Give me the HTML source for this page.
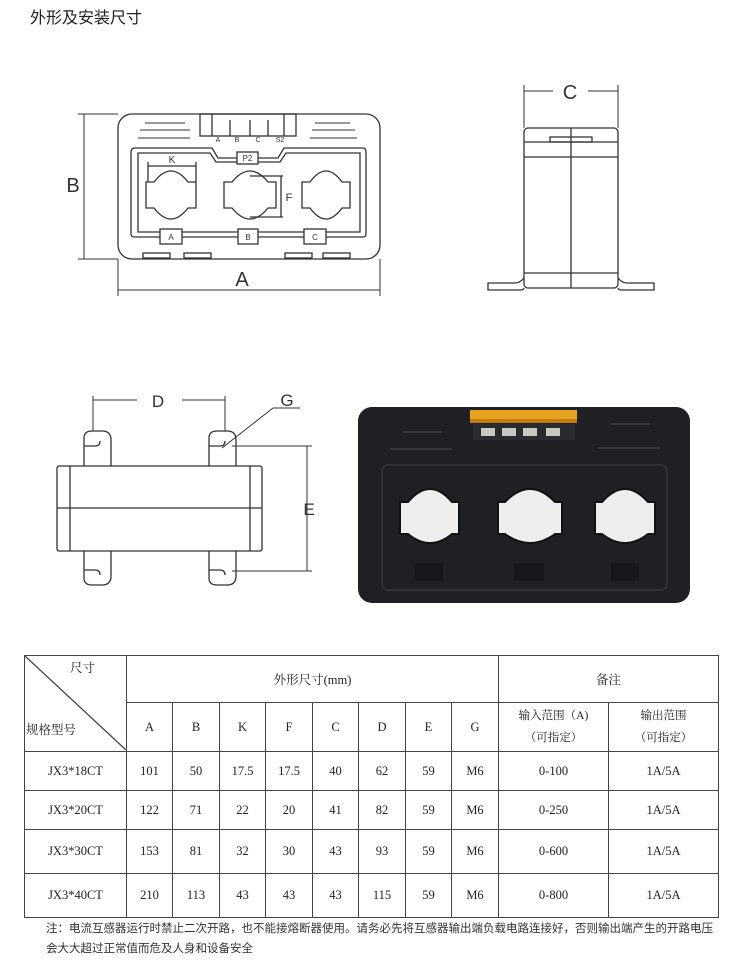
<!DOCTYPE html>
<html><head><meta charset="utf-8"><style>
body{margin:0;width:750px;height:966px;background:#fff;position:relative;overflow:hidden;font-family:"Liberation Serif","Noto Serif CJK SC",serif;}
.t{position:absolute;left:30px;top:4px;font-size:16px;font-family:"Liberation Sans","Noto Sans CJK SC",sans-serif;color:#222}
svg{position:absolute;left:0;top:0}
table{position:absolute;left:24px;top:655px;border-collapse:collapse;font-size:12.5px;color:#222}
td{border:1.5px solid #444;text-align:center;padding:0}
.n{position:absolute;left:46px;font-size:11.5px;color:#333;font-family:"Liberation Sans","Noto Sans CJK SC",sans-serif}
</style></head><body>
<div class="t">外形及安装尺寸</div>
<svg width="750" height="650" viewBox="0 0 750 650" fill="none" stroke="#333" stroke-width="1.3" font-family="Liberation Sans, sans-serif">
<!-- front drawing -->
<rect x="118" y="114" width="262" height="145" rx="14"/>
<rect x="200" y="114" width="96" height="22"/>
<line x1="212" y1="114" x2="212" y2="136"/><line x1="284" y1="114" x2="284" y2="136"/>
<line x1="230" y1="120" x2="230" y2="136"/><line x1="250" y1="120" x2="250" y2="136"/><line x1="268" y1="120" x2="268" y2="136"/>
<g stroke-width="1"><line x1="145" y1="123" x2="185" y2="123"/><line x1="140" y1="130" x2="190" y2="130"/><line x1="138" y1="138" x2="190" y2="138"/>
<line x1="315" y1="123" x2="350" y2="123"/><line x1="312" y1="130" x2="355" y2="130"/><line x1="310" y1="138" x2="357" y2="138"/></g>
<g fill="#333" stroke="none" font-size="7" text-anchor="middle"><text x="218" y="142">A</text><text x="237" y="142">B</text><text x="258" y="142">C</text><text x="280" y="142">S2</text></g>
<path d="M135 148 H212 L218 158 H278 L284 148 H363 Q366 148 366 152 V234 Q366 237 363 237 H135 Q131 237 131 234 V152 Q131 148 135 148Z"/>
<path d="M138 153 H210 L216 162 H280 L286 153 H360 V232 H138Z"/>
<rect x="237" y="152" width="21" height="12" fill="#fff"/><text x="247.5" y="161" font-size="8" fill="#333" stroke="none" text-anchor="middle">P2</text>
<g fill="#fff">
<path d="M146 182 H154 Q171 160 188 182 H196 V208 H188 Q171 230 154 208 H146Z"/>
<path d="M224 182 H232 Q250 160 268 182 H276 V208 H268 Q250 230 232 208 H224Z"/>
<path d="M302 182 H310 Q326 160 342 182 H350 V208 H342 Q326 230 310 208 H302Z"/>
</g>
<line x1="148" y1="166" x2="196" y2="166"/><line x1="148" y1="162" x2="148" y2="182"/><line x1="196" y1="162" x2="196" y2="182"/>
<line x1="250" y1="176" x2="283" y2="176"/><line x1="250" y1="217" x2="283" y2="217"/><line x1="281" y1="176" x2="281" y2="217"/>
<g fill="#fff"><rect x="160" y="229" width="22" height="15"/><rect x="238" y="229" width="20" height="15"/><rect x="304" y="229" width="22" height="15"/></g>
<g fill="#333" stroke="none" text-anchor="middle"><text x="171" y="240" font-size="8">A</text><text x="248" y="240" font-size="8">B</text><text x="315" y="240" font-size="8">C</text>
<text x="172" y="163" font-size="10">K</text><text x="289" y="201" font-size="11">F</text>
<text x="73" y="192" font-size="20">B</text><text x="242" y="286" font-size="20">A</text></g>
<rect x="143" y="253" width="27" height="5"/><rect x="184" y="253" width="27" height="5"/><rect x="285" y="253" width="27" height="5"/><rect x="323" y="253" width="27" height="5"/>
<g stroke-width="1"><line x1="78" y1="114" x2="118" y2="114"/><line x1="78" y1="259" x2="118" y2="259"/><line x1="84" y1="114" x2="84" y2="259"/>
<line x1="118" y1="259" x2="118" y2="296"/><line x1="380" y1="259" x2="380" y2="296"/><line x1="118" y1="290" x2="380" y2="290"/></g>
<!-- side view -->
<rect x="524" y="128" width="94" height="160" rx="4"/>
<line x1="571" y1="128" x2="571" y2="288"/><line x1="524" y1="142" x2="618" y2="142"/><line x1="524" y1="157" x2="618" y2="157"/><line x1="524" y1="273" x2="618" y2="273"/>
<rect x="550" y="137" width="42" height="5"/>
<path d="M524 278 Q520 283 515 283 H488 V290 H520 Q524 290 524 288"/><path d="M618 278 Q622 283 627 283 H654 V290 H622 Q618 290 618 288"/>
<g stroke-width="1"><line x1="524" y1="85" x2="524" y2="128"/><line x1="618" y1="85" x2="618" y2="128"/><line x1="524" y1="91" x2="553" y2="91"/><line x1="588" y1="91" x2="618" y2="91"/></g>
<text x="570" y="99" font-size="20" fill="#333" stroke="none" text-anchor="middle">C</text>
<!-- bottom view -->
<rect x="57" y="466" width="205" height="85" rx="2"/>
<line x1="70" y1="466" x2="70" y2="551"/><line x1="250" y1="466" x2="250" y2="551"/><line x1="57" y1="508" x2="262" y2="508"/>
<path d="M84 466 V438 Q84 431 92 431 H102 Q111 431 111 440 V466 M84 446 H95 Q100 446 100 441"/>
<path d="M209 466 V438 Q209 431 217 431 H227 Q236 431 236 440 V466 M209 446 H220 Q225 446 225 441"/>
<path d="M84 551 V578 Q84 585 92 585 H102 Q111 585 111 576 V551 M84 570 H95 Q100 570 100 575"/>
<path d="M209 551 V578 Q209 585 217 585 H227 Q236 585 236 576 V551 M209 570 H220 Q225 570 225 575"/>
<g stroke-width="1"><line x1="93" y1="396" x2="93" y2="431"/><line x1="225" y1="396" x2="225" y2="431"/>
<line x1="93" y1="400" x2="137" y2="400"/><line x1="182" y1="400" x2="225" y2="400"/>
<line x1="222" y1="448" x2="273" y2="408"/><line x1="273" y1="408" x2="300" y2="408"/>
<line x1="232" y1="446" x2="312" y2="446"/><line x1="232" y1="571" x2="312" y2="571"/><line x1="307" y1="446" x2="307" y2="571"/></g>
<g fill="#333" stroke="none" text-anchor="middle" font-size="17"><text x="158" y="407">D</text><text x="287" y="406">G</text><text x="309" y="515">E</text></g>
<!-- photo -->
<rect x="358" y="407" width="332" height="196" rx="14" fill="#1e2024" stroke="none"/>
<rect x="382" y="465" width="285" height="125" rx="6" fill="none" stroke="#2e3036" stroke-width="2"/>
<rect x="470" y="410" width="107" height="12" fill="#e6a21c" stroke="none"/>
<rect x="470" y="419" width="107" height="4" fill="#c27a0c" stroke="none"/>
<rect x="473" y="424" width="102" height="16" fill="#2a2b2e" stroke="none"/>
<g fill="#c9c9c0" stroke="none"><rect x="481" y="428" width="14" height="8"/><rect x="502" y="428" width="14" height="8"/><rect x="523" y="428" width="14" height="8"/><rect x="546" y="428" width="14" height="8"/></g>
<g stroke="#3a3c42" stroke-width="1.5"><line x1="403" y1="432" x2="442" y2="432"/><line x1="390" y1="449" x2="452" y2="449"/><line x1="610" y1="424" x2="650" y2="424"/><line x1="598" y1="448" x2="660" y2="448"/></g>
<g fill="#eeeeee" stroke="#111" stroke-width="2">
<path d="M400 502 H408 Q430 476 452 502 H459 V534 H452 Q430 552 408 534 H400Z"/>
<path d="M498 502 H505 Q530 476 555 502 H562 V534 H555 Q530 552 505 534 H498Z"/>
<path d="M595 502 H602 Q625 476 648 502 H655 V534 H648 Q625 552 602 534 H595Z"/>
</g>
<g fill="#16181b" stroke="none"><rect x="415" y="563" width="28" height="18"/><rect x="514" y="563" width="30" height="18"/><rect x="611" y="563" width="28" height="18"/></g>
</svg>
<table>
<tr style="height:47px"><td rowspan="2" style="width:101px;position:relative;">
<svg width="101" height="94" style="position:absolute;left:0;top:0"><line x1="0" y1="0" x2="101" y2="94" stroke="#444" stroke-width="1.3"/></svg>
<span style="position:absolute;left:45px;top:2px;">尺寸</span><span style="position:absolute;left:1px;top:64px;">规格型号</span></td>
<td colspan="8">外形尺寸(mm)</td><td colspan="2">备注</td></tr>
<tr style="height:49px"><td style="width:45px">A</td><td style="width:46px">B</td><td style="width:45px">K</td><td style="width:46px">F</td><td style="width:45px">C</td><td style="width:46px">D</td><td style="width:45px">E</td><td style="width:46px">G</td><td style="width:109px;font-size:11.5px;line-height:22px">输入范围（A)<br>（可指定）</td><td style="width:109px;font-size:11.5px;line-height:22px">输出范围<br>（可指定）</td></tr>
<tr style="height:39px"><td>JX3*18CT</td><td>101</td><td>50</td><td>17.5</td><td>17.5</td><td>40</td><td>62</td><td>59</td><td>M6</td><td>0-100</td><td>1A/5A</td></tr>
<tr style="height:39px"><td>JX3*20CT</td><td>122</td><td>71</td><td>22</td><td>20</td><td>41</td><td>82</td><td>59</td><td>M6</td><td>0-250</td><td>1A/5A</td></tr>
<tr style="height:44px"><td>JX3*30CT</td><td>153</td><td>81</td><td>32</td><td>30</td><td>43</td><td>93</td><td>59</td><td>M6</td><td>0-600</td><td>1A/5A</td></tr>
<tr style="height:44px"><td>JX3*40CT</td><td>210</td><td>113</td><td>43</td><td>43</td><td>43</td><td>115</td><td>59</td><td>M6</td><td>0-800</td><td>1A/5A</td></tr>
</table>
<div class="n" style="top:920px">注：电流互感器运行时禁止二次开路，也不能接熔断器使用。请务必先将互感器输出端负载电路连接好，否则输出端产生的开路电压</div>
<div class="n" style="top:940px">会大大超过正常值而危及人身和设备安全</div>
</body></html>
